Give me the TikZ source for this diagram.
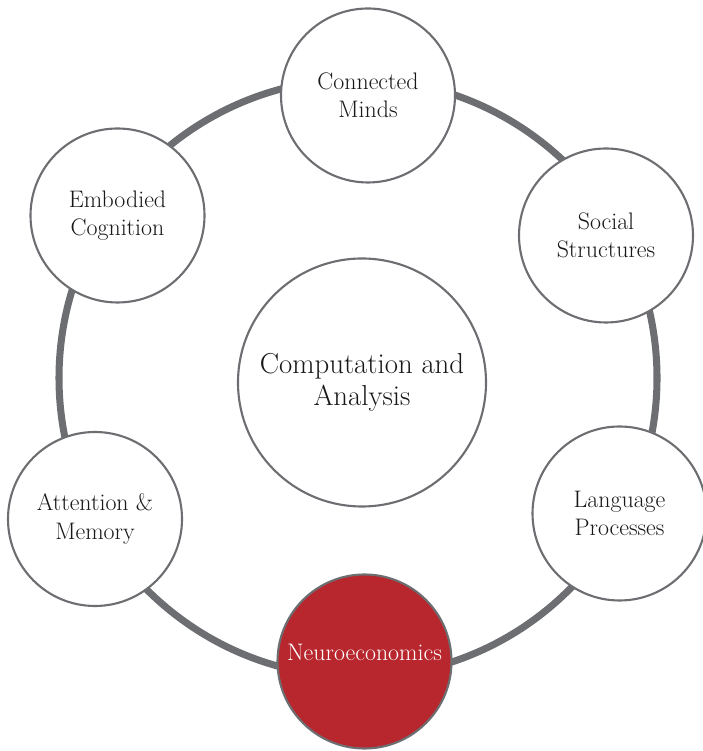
\documentclass[tikz,border=0pt]{standalone}
\usepackage{tikz}

\definecolor{ringgray}{HTML}{6D6E71}
\definecolor{neured}{HTML}{B8262E}
\definecolor{inkblack}{HTML}{1A1718}

\begin{document}
\begin{tikzpicture}[
        topic/.style={circle,draw=ringgray,line width=1.5pt,fill=white,
            minimum size=4.35cm,inner sep=0pt,align=center,text=inkblack,
            font=\fontsize{17}{20}\selectfont},
        hub/.style={topic,minimum size=6.2cm,font=\fontsize{20.5}{22.5}\selectfont}
    ]
        \useasboundingbox (0,0) rectangle (17.55,18.775);

        % ring
        \draw[ringgray,line width=5pt](8.95,9.325)circle(7.475cm);

        % centre
        \node[hub] (comp) at (9.05,9.2125) {Computation and\\Analysis};

        % topics on the ring
        \node[topic] (minds) at (9.2,16.3875) {Connected\\Minds};
        \node[topic] (social) at (15.15,12.8875) {Social\\Structures};
        \node[topic] (lang) at (15.4875,5.9375) {Language\\Processes};
        \node[topic,fill=neured,text=white,text depth=0.45cm] (neuro) at (9.1125,2.2375) {Neuroeconomics};
        \node[topic] (attn) at (2.375,5.8) {Attention \&\\Memory};
        \node[topic] (body) at (2.9375,13.3875) {Embodied\\Cognition};
    \end{tikzpicture}
\end{document}
